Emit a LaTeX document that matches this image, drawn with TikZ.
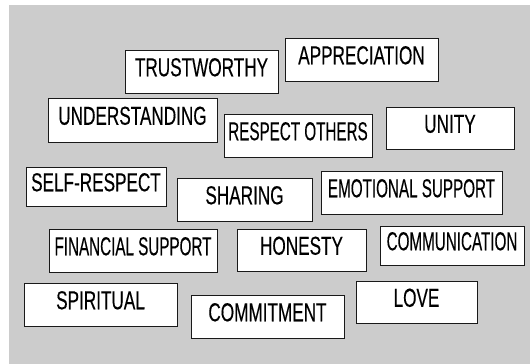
\documentclass[tikz,border=0pt]{standalone}
\usepackage{fontspec}
\setmainfont{Liberation Sans}
\newfontfamily\wordfont[FakeStretch=0.66, FakeBold=0.25]{Liberation Sans}
\newfontfamily\tightfont[FakeStretch=0.585, FakeBold=0.25]{Liberation Sans}
\begin{document}
\begin{tikzpicture}[x=1pt, y=-1pt,
  word/.style={draw=black!90, line width=1pt, fill=white, inner sep=2pt,
    minimum height=43pt, text height=18pt, text depth=8.5pt,
    font=\wordfont\fontsize{26}{30}\selectfont},
  tightword/.style={word, font=\tightfont\fontsize{26}{30}\selectfont}]
\useasboundingbox (0,0) rectangle (530,364);
\fill[black!20] (9,5) rectangle (530,364);

% first rows
\node[word, minimum width=153pt] (trust) at (201.5,71.5) {TRUSTWORTHY};
\node[word, minimum width=153pt] (apprec) at (361.5,59.5) {APPRECIATION};
\node[word, minimum width=169pt, minimum height=44pt] (underst) at (132.5,120) {UNDERSTANDING};
\node[tightword, minimum width=148pt] (respect) at (298,135.5) {RESPECT OTHERS};
\node[word, minimum width=128pt, minimum height=42pt] (unity) at (450,128) {UNITY};

% middle rows
\node[word, minimum width=140pt, minimum height=39pt] (selfresp) at (96,186.5) {SELF-RESPECT};
\node[word, minimum width=135pt] (sharing) at (244.5,199.5) {SHARING};
\node[tightword, minimum width=181pt] (emotion) at (411.5,192.5) {EMOTIONAL SUPPORT};
\node[tightword, minimum width=168pt] (finance) at (133,250.5) {FINANCIAL SUPPORT};
\node[word, minimum width=129pt, minimum height=42pt] (honesty) at (301.5,250) {HONESTY};
\node[tightword, minimum width=144pt, minimum height=39pt] (comm) at (452,245.5) {COMMUNICATION};

% bottom row
\node[word, minimum width=153pt] (spirit) at (100.5,304.5) {SPIRITUAL};
\node[word, minimum width=153pt] (commit) at (267.5,316.5) {COMMITMENT};
\node[word, minimum width=121pt, minimum height=42pt] (love) at (416.5,302) {LOVE};
\end{tikzpicture}
\end{document}
